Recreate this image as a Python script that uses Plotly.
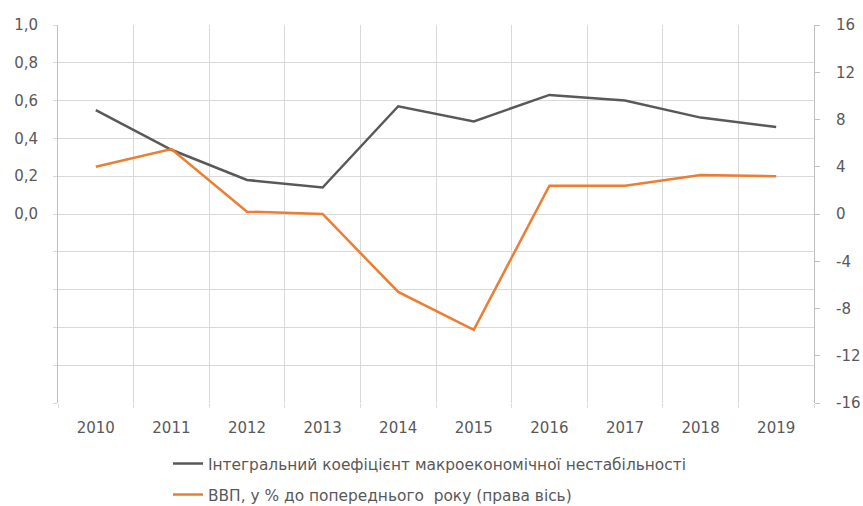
import plotly.graph_objects as go

years = ["2010", "2011", "2012", "2013", "2014", "2015", "2016", "2017", "2018", "2019"]
instability = [0.55, 0.34, 0.18, 0.14, 0.57, 0.49, 0.63, 0.60, 0.51, 0.46]
gdp = [4.0, 5.5, 0.2, 0.0, -6.6, -9.8, 2.4, 2.4, 3.3, 3.2]

left_vals = [-1.0, -0.8, -0.6, -0.4, -0.2, 0.0, 0.2, 0.4, 0.6, 0.8, 1.0]
left_text = ["", "", "", "", "", "0,0", "0,2", "0,4", "0,6", "0,8", "1,0"]
right_vals = [-16, -12, -8, -4, 0, 4, 8, 12, 16]
right_text = ["-16", "-12", "-8", "-4", "0", "4", "8", "12", "16"]

name_instab = "Інтегральний коефіцієнт макроекономічної нестабільності"
name_gdp = "ВВП, у % до попереднього  року (права вісь)"

FONT = "DejaVu Sans"
TXT = "#595959"
GRID = "#d9d9d9"

x = list(range(len(years)))

fig = go.Figure()
fig.add_trace(go.Scatter(
    x=x, y=instability, name=name_instab, mode="lines",
    line=dict(color="#595959", width=2.5), legend="legend",
))
fig.add_trace(go.Scatter(
    x=x, y=gdp, name=name_gdp, mode="lines", yaxis="y2",
    line=dict(color="#ED7D31", width=2.5), legend="legend2",
))

legend_common = dict(
    xref="container", yref="container", xanchor="left", yanchor="middle",
    font=dict(family=FONT, size=15.4, color=TXT), bgcolor="rgba(0,0,0,0)",
)

fig.update_layout(
    width=863, height=506,
    margin=dict(l=58, r=49, t=25, b=103, autoexpand=False),
    paper_bgcolor="white", plot_bgcolor="white",
    font=dict(family=FONT, size=14, color=TXT),
    showlegend=True,
    legend=dict(x=168 / 863, y=1 - 464 / 506, **legend_common),
    legend2=dict(x=168 / 863, y=1 - 495 / 506, **legend_common),
    xaxis=dict(
        range=[-0.5, len(years) - 0.5],
        tickmode="array", tickvals=x, ticktext=years,
        showgrid=False, zeroline=False, ticks="",
        ticklabelstandoff=14,
        minor=dict(tick0=-0.5, dtick=1, showgrid=True, gridcolor=GRID,
                   gridwidth=1, ticks="outside", ticklen=4, tickcolor=GRID),
        showline=False,
        tickfont=dict(family=FONT, size=15, color=TXT),
    ),
    yaxis=dict(
        range=[-1, 1], tickmode="array", tickvals=left_vals, ticktext=left_text,
        showgrid=True, gridcolor=GRID, gridwidth=1, zeroline=False,
        showline=True, linecolor="#bfbfbf", linewidth=1,
        ticks="outside", ticklen=4, tickcolor=GRID,
        ticklabelstandoff=12,
        tickfont=dict(family=FONT, size=15, color=TXT),
    ),
    yaxis2=dict(
        range=[-16, 16], tickmode="array", tickvals=right_vals, ticktext=right_text,
        overlaying="y", side="right", showgrid=False, zeroline=False,
        showline=True, linecolor="#bfbfbf", linewidth=1,
        ticks="outside", ticklen=5, tickcolor="#bfbfbf",
        ticklabelstandoff=13,
        tickfont=dict(family=FONT, size=15, color=TXT),
    ),
)

fig.write_html("out.html")
